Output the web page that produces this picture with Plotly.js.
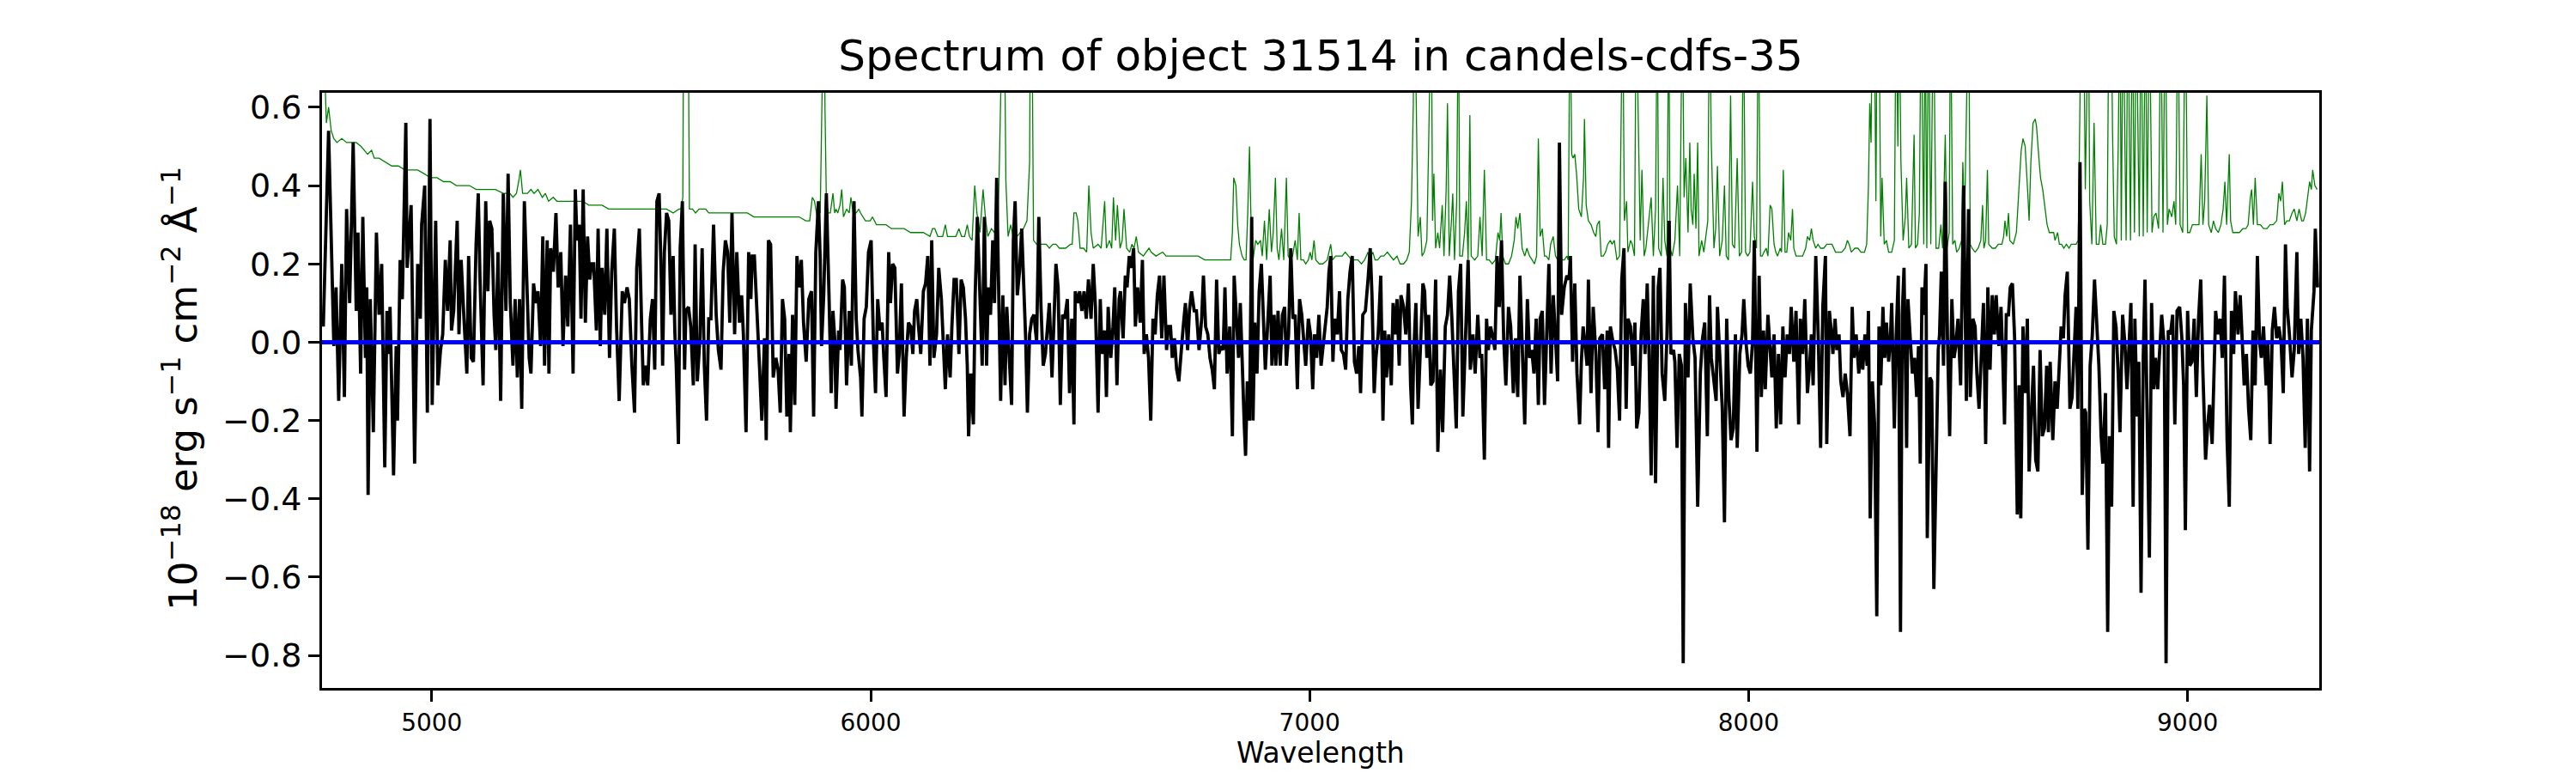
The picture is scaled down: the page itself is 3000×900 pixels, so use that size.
<!DOCTYPE html>
<html>
<head>
<meta charset="utf-8">
<script src="https://cdn.plot.ly/plotly-3.0.1.min.js"></script>
<style>html,body{margin:0;padding:0;background:#fff;}#chart{width:3000px;height:900px;}</style>
</head>
<body>
<div id="chart"></div>
<script>
// ---- data ----
const titleText = "Spectrum of object 31514 in candels-cdfs-35";
const xLabel = "Wavelength";
const yLabel = "10<sup>−18</sup> erg s<sup>−1</sup> cm<sup>−2</sup> Å<sup>−1</sup>";
const xTicks = [5000, 6000, 7000, 8000, 9000];
const yTicks = [-0.8, -0.6, -0.4, -0.2, 0.0, 0.2, 0.4, 0.6];
const xRange = [4750, 9300];
const yRange = [-0.883, 0.637];

// object flux: [wavelength, flux]
const objectFlux = [
[4753,0.04],[4765,0.54],[4777,-0.01],[4782,0.14],[4788,-0.15],[4795,0.20],[4801,-0.14],[4806,0.34],[4813,0.10],[4821,0.51],
[4828,0.08],[4832,0.28],[4838,-0.08],[4843,0.32],[4849,-0.04],[4852,0.14],[4855,-0.39],[4860,0.11],[4867,-0.23],[4874,0.28],
[4880,0.07],[4886,0.20],[4893,-0.32],[4898,0.08],[4902,-0.03],[4905,0.09],[4913,-0.34],[4919,-0.01],[4922,-0.20],[4928,0.21],
[4933,0.11],[4941,0.56],[4944,0.19],[4953,0.35],[4961,-0.31],[4968,0.20],[4974,0.06],[4977,0.30],[4984,0.40],[4990,-0.18],
[4996,0.57],[5001,-0.16],[5009,0.31],[5014,-0.11],[5020,-0.02],[5025,0.02],[5031,0.21],[5036,0.08],[5042,0.26],[5045,0.03],
[5050,0.08],[5058,0.31],[5062,0.02],[5067,0.21],[5073,0.07],[5080,-0.08],[5084,0.22],[5090,-0.04],[5095,-0.05],[5101,0.25],
[5106,0.38],[5110,0.16],[5117,-0.11],[5123,0.36],[5128,0.13],[5132,0.31],[5137,0.29],[5142,0.07],[5146,-0.02],[5151,0.23],
[5157,-0.15],[5163,0.38],[5169,0.08],[5174,0.43],[5179,0.10],[5185,-0.06],[5190,0.11],[5195,-0.09],[5200,0.11],[5205,-0.17],
[5211,0.36],[5217,0.10],[5222,-0.04],[5226,-0.08],[5232,0.15],[5237,0.10],[5242,0.13],[5248,-0.01],[5253,0.27],[5257,-0.06],
[5263,0.26],[5267,-0.08],[5271,0.24],[5277,0.18],[5283,0.33],[5288,0.14],[5294,0.23],[5299,-0.01],[5305,0.17],[5310,0.04],
[5316,0.30],[5322,-0.08],[5327,0.39],[5331,0.26],[5336,0.30],[5340,0.06],[5345,0.39],[5350,0.05],[5355,0.27],[5360,0.16],
[5364,0.20],[5369,0.20],[5375,0.03],[5379,0.29],[5384,-0.01],[5388,0.19],[5394,0.07],[5399,0.29],[5405,-0.04],[5410,0.18],
[5416,0.29],[5421,0.04],[5427,-0.15],[5434,0.13],[5439,0.10],[5445,0.14],[5450,0.11],[5456,-0.06],[5462,-0.18],[5467,0.19],
[5473,0.29],[5478,0.05],[5482,-0.11],[5487,-0.06],[5492,-0.11],[5498,0.06],[5503,0.11],[5508,-0.07],[5513,0.36],[5518,0.38],
[5523,0.16],[5526,-0.06],[5530,0.23],[5535,0.33],[5540,0.31],[5545,0.07],[5550,0.22],[5554,0.02],[5557,-0.06],[5562,-0.26],
[5566,0.24],[5571,0.36],[5576,-0.07],[5579,0.08],[5585,0.09],[5590,0.04],[5596,-0.11],[5600,0.25],[5605,-0.10],[5611,0.01],
[5616,0.24],[5621,-0.06],[5626,-0.20],[5631,0.06],[5636,0.06],[5642,0.30],[5648,0.07],[5653,-0.02],[5659,-0.07],[5664,0.18],
[5669,0.26],[5674,0.23],[5679,0.05],[5684,0.33],[5690,0.02],[5695,0.23],[5701,0.05],[5706,0.12],[5710,0.02],[5716,-0.23],
[5722,0.23],[5727,0.11],[5730,0.22],[5735,0.22],[5741,0.05],[5747,-0.07],[5752,-0.20],[5758,0.01],[5762,-0.25],[5767,0.26],
[5772,0.25],[5778,-0.09],[5784,-0.04],[5789,-0.07],[5794,-0.18],[5799,0.11],[5804,0.06],[5809,-0.19],[5814,-0.03],[5817,-0.23],
[5822,0.07],[5827,-0.16],[5832,0.22],[5837,0.14],[5842,0.21],[5847,0.05],[5853,-0.05],[5859,0.11],[5865,0.13],[5870,-0.19],
[5875,0.23],[5881,0.36],[5885,0.21],
[5888,-0.01],[5893,0.12],[5899,0.38],[5905,0.12],[5910,-0.13],[5914,0.08],[5918,0.01],[5921,-0.17],[5927,0.03],[5930,-0.02],
[5936,0.16],[5940,0.14],[5945,-0.11],[5951,0.08],[5956,-0.06],[5962,0.36],[5967,0.06],[5971,-0.02],[5977,-0.09],[5980,-0.19],
[5985,0.06],[5990,0.09],[5995,0.23],[6001,0.26],[6006,0.01],[6011,-0.13],[6016,0.11],[6021,0.03],[6026,0.05],[6030,-0.04],
[6035,-0.14],[6041,0.23],[6045,0.10],[6050,0.20],[6055,0.19],[6061,-0.08],[6065,-0.03],[6070,0.15],[6076,-0.19],[6081,-0.04],
[6086,0.05],[6091,0.04],[6096,-0.03],[6100,0.08],[6105,0.11],[6109,0.04],[6114,-0.03],[6120,0.13],[6125,0.15],[6130,0.22],
[6135,-0.06],[6139,0.26],[6144,-0.04],[6150,0.02],[6155,0.19],[6161,0.11],[6166,0.00],[6170,-0.12],[6175,0.02],[6181,-0.09],
[6185,0.04],[6190,0.16],[6195,0.16],[6201,-0.03],[6206,0.16],[6211,0.14],[6216,0.06],[6220,-0.06],[6223,-0.24],[6228,-0.08],
[6234,-0.21],[6238,0.12],[6243,0.32],[6249,0.10],[6254,-0.06],[6259,0.32],[6264,-0.06],[6268,0.14],[6273,0.07],[6278,0.26],
[6282,0.10],[6287,0.42],[6291,0.14],[6296,-0.15],[6301,0.12],[6306,-0.11],[6310,0.09],[6315,-0.03],[6321,-0.16],[6325,0.26],
[6329,0.36],[6334,0.12],[6339,0.18],[6344,0.29],[6349,0.14],[6353,0.01],[6357,-0.18],[6362,0.02],[6367,0.06],[6372,0.07],
[6378,0.00],[6383,0.32],[6388,0.09],[6393,-0.06],[6398,-0.03],[6402,0.04],[6407,0.10],[6413,-0.09],[6417,0.02],[6422,0.20],
[6427,0.14],[6432,-0.16],[6437,0.07],[6442,0.06],[6448,0.11],[6453,-0.13],[6458,0.06],[6463,-0.21],[6466,0.13],[6472,0.10],
[6476,0.13],[6481,0.08],[6486,0.13],[6491,0.06],[6496,0.16],[6502,0.06],[6507,0.20],[6512,0.09],[6518,-0.18],[6523,0.11],
[6527,-0.03],[6533,0.03],[6537,-0.14],[6541,0.09],[6547,-0.04],[6552,0.04],[6556,0.14],[6561,-0.11],[6566,0.11],[6569,0.13],
[6575,0.01],[6580,0.17],[6584,0.14],[6589,0.22],[6594,0.19],[6599,0.24],[6603,0.04],[6608,0.14],[6614,0.05],[6619,0.21],
[6623,-0.03],[6628,0.02],[6633,-0.04],[6638,-0.20],[6643,0.06],[6648,0.02],[6653,0.12],[6658,0.17],[6663,0.01],[6668,0.17],
[6674,-0.02],[6678,0.04],[6683,0.04],[6687,-0.04],[6692,0.01],[6697,-0.07],[6702,-0.10],[6707,-0.02],[6712,0.04],[6717,0.10],
[6722,-0.02],[6726,0.08],[6731,0.13],[6737,0.08],[6742,0.08],[6748,-0.02],[6754,0.06],[6758,0.17],[6763,0.04],[6768,0.02],
[6773,-0.04],[6778,-0.07],[6783,-0.12],[6788,0.16],[6793,-0.03],[6798,-0.01],[6803,-0.02],[6807,0.14],[6812,-0.08],[6818,0.04],
[6824,-0.24],[6828,0.17],[6833,0.05],[6838,-0.04],[6842,0.10],[6847,-0.10],[6851,-0.21],[6854,-0.29],[6858,-0.10],[6863,-0.20],
[6868,0.32],[6871,-0.20],[6875,0.05],[6880,-0.08],[6885,0.13],[6890,0.20],[6895,0.06],[6899,-0.07],[6905,0.06],[6910,0.17],
[6914,-0.06],[6919,0.07],[6923,-0.06],[6928,0.08],[6933,-0.06],[6938,0.07],[6943,0.09],[6947,-0.06],[6952,0.02],[6957,0.24],
[6962,0.06],[6967,0.07],[6972,-0.12],[6977,0.11],[6982,0.07],[6987,0.01],[6991,-0.06],[6997,0.06],[7002,0.02],[7007,-0.12],
[7011,0.02],[7016,-0.04],[7021,0.07],[7026,-0.06],
[7040,0.09],[7044,0.18],[7048,0.22],[7053,-0.05],[7057,0.06],[7063,0.02],[7068,0.13],[7072,-0.02],[7077,-0.03],[7082,-0.07],
[7087,0.11],[7092,0.18],[7097,0.22],[7102,-0.05],[7107,-0.08],[7112,-0.01],[7116,-0.13],[7121,0.07],[7127,0.08],[7133,0.16],
[7138,0.24],[7142,0.12],[7147,-0.13],[7151,-0.04],[7156,0.02],[7162,0.17],[7167,-0.20],[7171,0.03],[7175,-0.09],[7180,0.02],
[7186,-0.11],[7190,0.10],[7195,0.02],[7199,0.11],[7204,-0.06],[7208,0.12],[7214,0.09],[7219,0.02],[7225,0.15],[7230,-0.11],
[7234,-0.21],[7237,-0.03],[7242,0.10],[7247,-0.17],[7252,-0.03],[7258,0.15],[7262,0.13],[7267,-0.04],[7271,0.07],[7276,-0.11],
[7281,-0.10],[7287,0.16],[7292,-0.28],[7298,-0.07],[7303,-0.23],[7309,0.04],[7314,0.07],[7319,0.17],[7324,0.06],[7330,-0.11],
[7334,-0.22],[7339,0.13],[7344,0.20],[7349,-0.19],[7353,-0.07],[7361,0.21],[7366,-0.07],[7372,0.02],[7377,-0.08],[7383,0.07],
[7388,-0.04],[7392,-0.03],[7398,-0.30],[7403,0.06],[7407,-0.02],[7412,0.04],[7418,0.01],[7422,-0.02],[7427,0.22],[7432,0.09],
[7437,0.26],[7442,0.01],[7447,-0.11],[7453,0.09],[7458,0.04],[7464,-0.13],[7469,0.01],[7474,-0.14],[7479,0.17],[7484,0.00],
[7490,-0.21],[7496,0.11],[7501,-0.04],[7506,-0.02],[7511,-0.08],[7516,0.06],[7521,-0.16],[7525,0.06],[7530,0.08],[7535,-0.16],
[7540,0.06],[7545,0.20],[7550,-0.08],[7555,0.12],[7560,0.01],[7565,-0.10],[7569,0.51],[7574,0.07],[7580,0.14],[7586,0.17],
[7591,0.16],[7594,0.22],[7599,-0.05],[7604,0.15],[7609,-0.08],[7615,-0.21],[7619,-0.05],[7623,0.04],[7627,0.00],[7632,-0.06],
[7635,0.16],[7641,-0.13],[7646,0.09],[7652,-0.03],[7657,-0.23],[7661,0.01],[7667,0.02],[7672,-0.12],[7678,0.03],[7681,-0.27],
[7685,0.04],[7691,0.00],[7696,-0.02],[7701,-0.07],[7706,-0.20],[7711,0.16],[7716,0.24],[7721,-0.17],[7725,0.06],[7731,0.04],
[7736,-0.06],[7741,0.05],[7745,-0.22],[7750,-0.18],[7755,0.02],[7760,0.11],[7764,-0.03],[7769,0.15],[7773,-0.02],[7778,-0.34],
[7783,0.17],[7788,-0.36],[7794,0.14],[7798,0.19],[7803,-0.08],[7809,-0.15],[7814,0.02],[7819,0.31],[7823,-0.03],[7829,-0.02],
[7832,-0.05],[7837,-0.27],[7842,-0.03],[7847,-0.06],[7851,-0.82],[7856,0.10],[7862,-0.09],[7867,0.15],[7873,0.01],[7878,-0.04],
[7884,-0.42],[7890,-0.08],[7895,0.01],[7900,0.05],[7906,-0.24],[7911,0.12],[7915,-0.04],[7921,-0.11],[7926,-0.15],[7929,0.09],
[7935,-0.06],[7940,-0.17],[7945,-0.46],[7950,0.06],[7955,-0.14],[7960,-0.25],[7965,-0.22],[7970,0.02],[7974,-0.27],[7980,-0.03],
[7985,0.02],[7989,0.11],[7994,0.00],[7999,-0.06],[8004,-0.08],[8009,0.00],[8013,0.26],[8019,-0.28],[8024,0.17],[8029,-0.14],
[8034,0.03],[8038,-0.12],[8044,0.07],[8049,-0.03],[8053,-0.09],[8058,0.02],[8063,-0.22],[8068,-0.03],[8073,-0.21],[8078,0.04],
[8083,-0.09],[8088,0.02],[8093,-0.03],[8097,0.09],[8103,-0.05],[8108,0.08],[8114,-0.21],[8118,0.06],[8123,-0.03],[8128,0.11],
[8134,-0.13],[8139,-0.06],[8143,0.02],[8147,-0.11],[8153,0.22],[8159,0.00],[8164,-0.27],[8169,0.09],[8175,0.22],[8178,-0.26],
[8184,0.08],[8189,0.02],[8192,-0.03],[8197,0.06],[8201,-0.02],[8206,0.02],[8210,-0.10],[8215,-0.14],[8220,-0.08],[8225,-0.13],
[8231,-0.24],[8236,0.09],[8240,-0.04],[8245,0.02],[8251,-0.08],[8257,0.00],[8260,-0.07],[8265,0.02],[8270,-0.06],[8273,0.08],
[8277,-0.45],[8282,-0.10],[8287,-0.21],[8292,-0.70],[8297,0.04],[8301,-0.11],[8306,0.09],[8310,-0.04],[8314,0.05],[8319,-0.05],
[8323,0.01],[8326,0.10],[8332,-0.22],[8336,0.01],[8341,0.17],[8346,-0.74],[8350,0.07],[8354,0.19],[8360,-0.27],[8363,0.11],
[8368,0.01],[8373,-0.08],[8378,-0.04],[8383,-0.14],[8387,-0.01],[8391,-0.31],[8395,0.14],[8399,0.07],[8404,0.20],[8407,-0.50],
[8413,-0.09],[8417,-0.10],[8422,-0.63],[8427,-0.28],[8432,-0.02],[8435,0.02],[8439,0.18],[8444,-0.06],[8448,0.41],[8453,0.01],
[8458,-0.24],[8463,0.11],[8468,-0.04],[8472,-0.01],[8477,0.06],[8483,-0.11],[8487,0.14],[8490,0.40],[8496,-0.15],[8501,0.34],
[8505,-0.14],[8511,0.06],[8516,0.04],[8520,-0.08],[8525,-0.17],[8530,-0.05],[8535,0.10],[8540,-0.26],[8545,0.14],[8550,-0.07],
[8555,0.12],[8560,0.02],[8564,0.12],[8570,-0.01],[8575,0.09],[8579,-0.04],[8583,-0.21],[8587,0.07],[8592,0.07],[8596,0.14],
[8601,0.15],[8606,0.01],[8612,-0.44],[8616,-0.11],[8620,-0.45],[8625,0.04],[8630,-0.13],[8635,0.06],[8639,-0.33],[8645,-0.16],
[8649,-0.06],[8654,-0.30],[8659,-0.33],[8664,-0.02],[8669,-0.24],[8674,-0.22],[8679,-0.06],[8683,-0.23],[8687,-0.05],[8693,-0.25],
[8698,-0.10],[8703,-0.17],[8707,-0.08],[8712,0.04],[8717,0.01],[8721,0.12],[8726,0.18],[8732,-0.17],[8737,-0.14],[8741,-0.02],
[8746,0.09],[8750,-0.17],[8755,0.46],[8760,-0.39],[8765,-0.17],[8768,-0.18],[8773,-0.53],[8778,-0.06],[8783,0.02],[8788,0.16],
[8793,0.06],[8798,-0.06],[8803,-0.24],[8807,-0.31],[8813,-0.13],[8818,-0.74],[8822,-0.24],[8827,-0.42],[8832,0.08],[8837,0.04],
[8842,-0.08],[8846,-0.23],[8852,0.07],[8857,0.00],[8862,-0.12],[8866,-0.02],[8871,0.10],[8876,-0.42],[8880,0.06],[8885,-0.19],
[8889,-0.05],[8894,-0.64],[8899,-0.04],[8903,0.16],[8908,-0.18],[8913,-0.55],[8918,0.10],[8923,-0.12],[8927,-0.04],[8932,-0.12],
[8936,-0.03],[8941,0.07],[8947,-0.01],[8951,-0.82],[8956,0.03],[8961,0.02],[8966,0.07],[8971,-0.21],[8976,0.08],[8982,0.09],
[8987,0.01],[8991,-0.11],[8995,-0.48],[9000,0.08],[9005,-0.06],[9010,-0.05],[9015,0.06],[9020,-0.14],[9025,0.06],[9030,0.16],
[9035,-0.08],[9041,-0.30],[9046,-0.21],[9050,-0.16],[9056,-0.26],[9060,-0.12],[9064,0.08],[9069,0.02],[9074,0.06],[9079,-0.04],
[9084,0.17],[9090,-0.25],[9095,-0.42],[9100,0.08],[9105,-0.03],[9109,0.13],[9115,0.02],[9120,0.12],[9124,0.03],[9129,-0.11],
[9134,-0.03],[9139,-0.17],[9144,-0.25],[9149,0.03],[9154,-0.11],[9159,0.22],[9164,0.00],[9168,-0.04],[9173,0.04],[9179,-0.11],
[9183,0.00],[9188,-0.26],[9193,0.03],[9198,0.09],[9203,0.01],[9208,0.04],[9213,0.00],[9218,-0.13],[9223,0.25],[9227,0.09],
[9232,0.02],[9238,-0.09],[9243,-0.02],[9249,0.23],[9253,-0.03],[9258,0.06],[9263,-0.04],[9268,-0.27],[9273,0.06],[9278,-0.33],
[9282,0.03],[9288,0.13],[9291,0.29],[9296,0.14]
];

// sky / noise spectrum: [wavelength, flux] (0.9 marks lines that run off the top)
const skyFlux = [
[4749,0.75],[4756,0.70],[4760,0.56],[4765,0.60],[4771,0.54],[4777,0.52],[4784,0.51],[4795,0.52],[4806,0.51],[4817,0.51],
[4828,0.51],[4839,0.50],[4854,0.48],[4863,0.49],[4869,0.47],[4880,0.47],[4894,0.46],[4909,0.45],[4924,0.45],[4939,0.44],
[4953,0.44],[4968,0.44],[4983,0.43],[4997,0.42],[5012,0.42],[5027,0.41],[5042,0.41],[5056,0.40],[5071,0.40],[5086,0.40],
[5101,0.39],[5115,0.39],[5130,0.39],[5145,0.39],[5163,0.38],[5178,0.38],[5185,0.37],[5193,0.38],[5198,0.41],[5202,0.44],
[5207,0.38],[5218,0.38],[5226,0.39],[5233,0.38],[5242,0.39],[5252,0.37],[5259,0.38],[5266,0.36],[5277,0.37],[5285,0.36],
[5299,0.36],[5314,0.36],[5329,0.36],[5344,0.36],[5358,0.35],[5373,0.35],[5388,0.35],[5403,0.34],[5417,0.34],[5432,0.34],
[5447,0.34],[5461,0.34],[5476,0.34],[5491,0.34],[5506,0.34],[5520,0.34],[5535,0.34],[5550,0.33],[5563,0.34],[5568,0.34],
[5572,0.37],[5574,0.90],[5579,0.90],[5584,0.90],[5587,0.34],[5594,0.34],[5601,0.33],[5609,0.34],[5624,0.34],[5631,0.33],
[5646,0.33],[5660,0.33],[5675,0.33],[5690,0.33],[5705,0.33],[5719,0.33],[5734,0.32],[5749,0.32],[5763,0.32],[5778,0.32],
[5793,0.32],[5808,0.32],[5822,0.32],[5837,0.32],[5852,0.31],[5861,0.31],[5867,0.37],[5872,0.36],[5878,0.32],[5883,0.34],
[5885,0.33],[5890,0.90],[5893,0.90],[5896,0.59],[5899,0.36],[5903,0.33],[5908,0.33],[5914,0.38],[5918,0.33],[5921,0.34],
[5925,0.33],[5930,0.35],[5934,0.39],[5938,0.32],[5945,0.34],[5951,0.33],[5955,0.37],[5960,0.33],[5967,0.33],[5973,0.34],
[5977,0.33],[5988,0.31],[5999,0.31],[6004,0.32],[6013,0.30],[6024,0.30],[6035,0.30],[6047,0.29],[6061,0.29],[6076,0.29],
[6091,0.28],[6105,0.28],[6120,0.28],[6135,0.27],[6141,0.29],[6146,0.29],[6153,0.27],[6164,0.27],[6170,0.30],[6175,0.27],
[6186,0.27],[6194,0.27],[6201,0.29],[6207,0.27],[6214,0.27],[6220,0.30],[6225,0.27],[6231,0.26],[6237,0.40],[6242,0.33],
[6249,0.28],[6256,0.39],[6262,0.31],[6267,0.27],[6275,0.29],[6282,0.28],[6290,0.28],[6294,0.56],[6297,0.90],[6301,0.90],
[6304,0.90],[6308,0.41],[6313,0.27],[6319,0.30],[6326,0.26],[6334,0.27],[6341,0.28],[6348,0.29],[6356,0.31],[6362,0.46],
[6364,0.90],[6367,0.90],[6371,0.26],[6378,0.25],[6385,0.25],[6400,0.25],[6407,0.24],[6415,0.25],[6422,0.25],[6430,0.24],
[6444,0.24],[6455,0.25],[6459,0.25],[6463,0.33],[6468,0.33],[6472,0.31],[6477,0.24],[6485,0.24],[6492,0.23],[6497,0.40],
[6502,0.28],[6507,0.24],[6518,0.25],[6525,0.24],[6533,0.36],[6537,0.24],[6544,0.26],[6549,0.24],[6553,0.37],[6558,0.26],
[6562,0.35],[6568,0.24],[6573,0.26],[6577,0.34],[6583,0.24],[6590,0.23],[6595,0.25],[6600,0.24],[6605,0.27],[6610,0.23],
[6621,0.22],[6628,0.23],[6634,0.24],[6639,0.23],[6650,0.22],[6665,0.23],[6673,0.22],[6684,0.22],[6695,0.22],[6702,0.22],
[6717,0.22],[6731,0.22],[6746,0.22],[6761,0.21],[6776,0.21],[6790,0.21],[6805,0.21],[6820,0.21],[6824,0.28],[6827,0.42],
[6832,0.40],[6836,0.30],[6840,0.25],[6846,0.22],[6851,0.21],[6855,0.21],[6859,0.33],[6863,0.50],[6866,0.33],[6871,0.21],
[6877,0.26],[6882,0.25],[6888,0.26],[6892,0.22],[6897,0.31],[6902,0.21],[6908,0.34],[6913,0.23],[6917,0.28],[6922,0.42],
[6926,0.24],[6930,0.21],[6936,0.29],[6941,0.21],[6947,0.42],[6951,0.22],[6956,0.21],[6961,0.22],[6967,0.26],[6972,0.21],
[6976,0.33],[6980,0.21],[6986,0.21],[6991,0.20],[6997,0.21],[7001,0.23],[7005,0.21],[7010,0.26],[7014,0.21],[7022,0.20],
[7030,0.20],[7040,0.21],[7044,0.23],[7048,0.25],[7052,0.21],[7059,0.22],[7066,0.22],[7074,0.22],[7081,0.23],[7088,0.22],
[7096,0.21],[7103,0.21],[7110,0.21],[7118,0.20],[7125,0.21],[7133,0.23],[7136,0.21],[7140,0.22],[7144,0.23],[7149,0.21],
[7155,0.21],[7162,0.22],[7169,0.22],[7177,0.23],[7184,0.22],[7191,0.21],[7199,0.22],[7206,0.20],[7214,0.20],[7221,0.21],
[7227,0.23],[7232,0.36],[7236,0.60],[7239,0.90],[7243,0.60],[7247,0.27],[7252,0.32],[7256,0.22],[7261,0.23],[7267,0.26],
[7271,0.50],[7274,0.90],[7277,0.90],[7280,0.31],[7283,0.43],[7287,0.24],[7292,0.28],[7296,0.24],[7302,0.35],[7306,0.22],
[7311,0.39],[7314,0.61],[7318,0.22],[7323,0.31],[7326,0.38],[7330,0.21],[7335,0.36],[7339,0.90],[7342,0.22],[7348,0.22],
[7353,0.28],[7357,0.36],[7361,0.21],[7365,0.58],[7368,0.22],[7376,0.21],[7383,0.22],[7388,0.32],[7393,0.22],[7398,0.44],
[7403,0.21],[7409,0.21],[7416,0.20],[7423,0.21],[7429,0.28],[7433,0.26],[7436,0.33],[7440,0.22],[7446,0.20],[7453,0.20],
[7460,0.22],[7466,0.26],[7470,0.32],[7474,0.29],[7479,0.33],[7484,0.24],[7490,0.22],[7495,0.24],[7501,0.22],[7507,0.21],
[7512,0.20],[7517,0.22],[7521,0.52],[7525,0.27],[7530,0.29],[7535,0.22],[7539,0.22],[7545,0.21],[7549,0.25],[7555,0.27],
[7560,0.22],[7565,0.21],[7569,0.26],[7574,0.21],[7580,0.21],[7586,0.22],[7589,0.21],[7593,0.90],[7597,0.48],[7600,0.47],
[7604,0.48],[7608,0.43],[7613,0.34],[7619,0.32],[7624,0.42],[7626,0.57],[7630,0.35],[7635,0.31],[7641,0.30],[7647,0.28],
[7652,0.27],[7655,0.30],[7660,0.31],[7664,0.22],[7669,0.22],[7674,0.23],[7679,0.25],[7685,0.26],[7689,0.25],[7694,0.26],
[7700,0.21],[7706,0.22],[7709,0.51],[7713,0.90],[7717,0.31],[7722,0.36],[7725,0.23],[7731,0.26],[7735,0.25],[7740,0.22],
[7744,0.90],[7748,0.62],[7753,0.26],[7757,0.44],[7762,0.22],[7766,0.24],[7772,0.31],[7778,0.37],[7783,0.22],[7788,0.34],
[7792,0.90],[7795,0.24],[7801,0.22],[7805,0.42],[7809,0.26],[7814,0.22],[7818,0.90],[7821,0.24],[7826,0.22],[7832,0.26],
[7838,0.40],[7843,0.22],[7849,0.90],[7853,0.37],[7857,0.47],[7862,0.28],[7866,0.51],[7869,0.34],[7873,0.30],[7876,0.43],
[7880,0.29],[7884,0.51],[7887,0.22],[7893,0.26],[7898,0.23],[7907,0.31],[7911,0.90],[7915,0.51],[7921,0.24],[7925,0.29],
[7929,0.45],[7934,0.22],[7940,0.26],[7945,0.40],[7949,0.22],[7954,0.21],[7959,0.63],[7963,0.25],[7968,0.24],[7974,0.47],
[7979,0.22],[7984,0.23],[7988,0.90],[7993,0.23],[7998,0.22],[8003,0.23],[8009,0.41],[8013,0.27],[8018,0.24],[8022,0.90],
[8027,0.22],[8031,0.22],[8035,0.23],[8040,0.24],[8044,0.22],[8049,0.35],[8053,0.34],[8058,0.25],[8062,0.23],[8066,0.22],
[8072,0.24],[8075,0.23],[8079,0.44],[8083,0.23],[8087,0.23],[8091,0.28],[8096,0.26],[8100,0.34],[8103,0.24],[8108,0.22],
[8116,0.22],[8123,0.22],[8130,0.24],[8134,0.27],[8139,0.26],[8143,0.29],[8147,0.26],[8153,0.24],[8158,0.25],[8164,0.24],
[8171,0.24],[8178,0.25],[8184,0.25],[8190,0.25],[8198,0.23],[8205,0.23],[8212,0.23],[8220,0.24],[8225,0.26],[8229,0.25],
[8234,0.23],[8242,0.24],[8249,0.24],[8256,0.23],[8264,0.23],[8269,0.25],[8273,0.40],[8276,0.61],[8279,0.51],[8282,0.90],
[8286,0.90],[8290,0.36],[8293,0.90],[8297,0.90],[8301,0.27],[8304,0.42],[8309,0.25],[8314,0.26],[8319,0.23],[8326,0.23],
[8332,0.26],[8336,0.90],[8340,0.50],[8343,0.90],[8347,0.46],[8352,0.26],[8357,0.32],[8360,0.42],[8365,0.24],[8371,0.25],
[8377,0.53],[8380,0.24],[8385,0.25],[8389,0.33],[8393,0.90],[8399,0.25],[8402,0.90],[8406,0.24],[8410,0.90],[8415,0.25],
[8421,0.90],[8427,0.24],[8433,0.24],[8438,0.30],[8442,0.24],[8448,0.53],[8452,0.24],[8457,0.28],[8460,0.90],[8465,0.25],
[8470,0.26],[8474,0.23],[8480,0.24],[8485,0.26],[8488,0.46],[8492,0.31],[8497,0.90],[8501,0.90],[8505,0.25],[8509,0.24],
[8516,0.23],[8523,0.24],[8529,0.26],[8533,0.35],[8536,0.24],[8540,0.26],[8544,0.44],[8547,0.25],[8555,0.24],[8562,0.24],
[8569,0.25],[8577,0.25],[8581,0.27],[8584,0.31],[8588,0.27],[8592,0.33],[8595,0.26],[8603,0.25],[8610,0.28],[8615,0.37],
[8621,0.49],[8625,0.52],[8630,0.50],[8636,0.38],[8639,0.31],[8643,0.46],[8648,0.56],[8653,0.57],[8656,0.55],[8662,0.46],
[8665,0.42],[8670,0.39],[8674,0.35],[8680,0.30],[8685,0.28],[8690,0.28],[8695,0.28],[8698,0.26],[8704,0.28],[8708,0.25],
[8713,0.25],[8718,0.24],[8724,0.25],[8730,0.24],[8735,0.25],[8741,0.25],[8746,0.25],[8751,0.26],[8754,0.90],[8758,0.90],
[8763,0.90],[8767,0.39],[8770,0.60],[8774,0.90],[8777,0.36],[8782,0.25],[8787,0.56],[8792,0.25],[8798,0.25],[8802,0.30],
[8807,0.25],[8813,0.25],[8817,0.30],[8821,0.90],[8826,0.90],[8829,0.54],[8833,0.27],[8838,0.25],[8842,0.50],[8846,0.90],
[8849,0.26],[8853,0.90],[8860,0.26],[8864,0.90],[8870,0.26],[8874,0.90],[8879,0.28],[8883,0.90],[8890,0.27],[8894,0.90],
[8899,0.27],[8904,0.90],[8908,0.28],[8913,0.90],[8919,0.28],[8923,0.32],[8928,0.33],[8934,0.29],[8939,0.90],[8944,0.28],
[8949,0.90],[8954,0.30],[8958,0.34],[8964,0.32],[8969,0.36],[8973,0.30],[8978,0.90],[8983,0.30],[8989,0.28],[8995,0.90],
[9000,0.28],[9005,0.28],[9011,0.30],[9016,0.30],[9020,0.30],[9026,0.30],[9031,0.48],[9035,0.30],[9039,0.36],[9044,0.63],
[9048,0.30],[9054,0.28],[9059,0.31],[9064,0.29],[9070,0.28],[9076,0.30],[9081,0.34],[9085,0.41],[9089,0.30],[9095,0.48],
[9098,0.31],[9103,0.28],[9111,0.28],[9118,0.28],[9126,0.29],[9133,0.29],[9138,0.30],[9143,0.37],[9146,0.39],[9150,0.30],
[9154,0.42],[9159,0.30],[9166,0.30],[9173,0.29],[9181,0.29],[9188,0.30],[9195,0.30],[9203,0.31],[9208,0.38],[9212,0.36],
[9216,0.41],[9221,0.30],[9226,0.31],[9232,0.31],[9238,0.33],[9243,0.34],[9249,0.31],[9254,0.34],[9260,0.31],[9264,0.31],
[9269,0.33],[9274,0.37],[9278,0.41],[9282,0.39],[9285,0.44],[9290,0.40],[9295,0.39]
];

// zero reference line
const zeroLine = [[4750, 0.0], [9300, 0.0]];

// ---- build traces ----
const FONT = "DejaVu Sans, Liberation Sans, sans-serif";
const col = (arr, i) => arr.map(p => p[i]);

const traces = [
  {x: col(skyFlux,0), y: col(skyFlux,1), type: "scatter", mode: "lines",
   line: {color: "#008000", width: 1.3}, hoverinfo: "skip", showlegend: false},
  {x: col(objectFlux,0), y: col(objectFlux,1), type: "scatter", mode: "lines",
   line: {color: "#000000", width: 3.8}, hoverinfo: "skip", showlegend: false},
  {x: col(zeroLine,0), y: col(zeroLine,1), type: "scatter", mode: "lines",
   line: {color: "#0000ff", width: 5}, hoverinfo: "skip", showlegend: false}
];

const L = 375, R = 299, T = 108, B = 99, W = 3000, H = 900;
const plotW = W - L - R, plotH = H - T - B;

const axisCommon = {
  showgrid: false, zeroline: false, showline: true, linecolor: "#000", linewidth: 3,
  mirror: true, ticks: "outside", ticklen: 13, tickwidth: 3, tickcolor: "#000",
  automargin: false, fixedrange: true
};

const layout = {
  width: W, height: H,
  margin: {l: L, r: R, t: T, b: B, pad: 0},
  paper_bgcolor: "#fff", plot_bgcolor: "#fff",
  font: {family: FONT, color: "#000"},
  title: {text: titleText, font: {family: FONT, size: 50, color: "#000"},
          x: 0.5, xref: "paper", xanchor: "center",
          y: 1 - 64 / H, yref: "container", yanchor: "middle"},
  xaxis: Object.assign({}, axisCommon, {
    range: xRange, tickvals: xTicks, ticktext: xTicks.map(String),
    tickfont: {family: FONT, size: 28, color: "#000"}
  }),
  yaxis: Object.assign({}, axisCommon, {
    range: yRange, tickvals: yTicks, ticktext: yTicks.map(v => v.toFixed(1).replace("-", "−")),
    tickfont: {family: FONT, size: 38, color: "#000"}
  }),
  annotations: [
    {text: xLabel, xref: "paper", yref: "paper", x: 0.5, y: (H - B - 877) / plotH,
     xanchor: "center", yanchor: "middle", showarrow: false,
     font: {family: FONT, size: 33, color: "#000"}},
    {text: yLabel, xref: "paper", yref: "paper", x: (210 - L) / plotW, y: (H - B - 453) / plotH,
     xanchor: "center", yanchor: "middle", showarrow: false, textangle: -90,
     font: {family: FONT, size: 45, color: "#000"}}
  ],
  showlegend: false
};

Plotly.newPlot("chart", traces, layout, {displayModeBar: false, staticPlot: true});
</script>
</body>
</html>
